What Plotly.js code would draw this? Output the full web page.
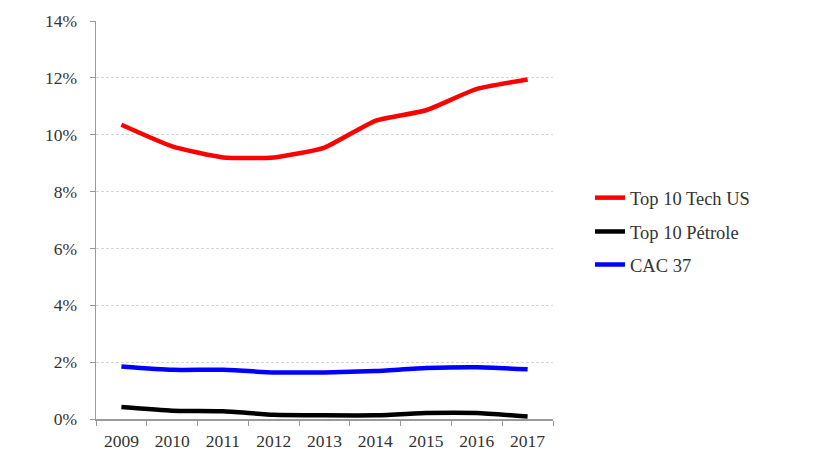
<!DOCTYPE html>
<html>
<head>
<meta charset="utf-8">
<script src="https://cdn.plot.ly/plotly-3.0.1.min.js"></script>
<style>
  html, body { margin: 0; padding: 0; background: #fff; }
  #chart { width: 813px; height: 465px; }
</style>
</head>
<body>
<div id="chart"></div>
<script>
const YEARS = ["2009", "2010", "2011", "2012", "2013", "2014", "2015", "2016", "2017"];

const TECH_US = [10.35, 9.59, 9.2, 9.2, 9.55, 10.49, 10.86, 11.61, 11.94];
const PETROLE = [0.42, 0.29, 0.27, 0.15, 0.13, 0.13, 0.21, 0.21, 0.09];
const CAC37 = [1.85, 1.73, 1.73, 1.64, 1.64, 1.69, 1.79, 1.82, 1.75];

const Y_TICKS = [0, 2, 4, 6, 8, 10, 12, 14];

const SERIF = "Liberation Serif, Times New Roman, serif";
const TEXT = "#333";

function trace(name, values, color, legendId) {
  return {
    x: YEARS,
    y: values,
    type: "scatter",
    mode: "lines",
    name: name,
    legend: legendId,
    line: { color: color, width: 4.5, shape: "spline", smoothing: 0.5 },
    hoverinfo: "skip"
  };
}

const traces = [
  trace("Top 10 Tech US", TECH_US, "#ff0000", "legend"),
  trace("Top 10 Pétrole", PETROLE, "#000000", "legend2"),
  trace("CAC 37", CAC37, "#0000ff", "legend3")
];

function legendAt(y) {
  return {
    x: 1.081,
    xanchor: "left",
    y: y,
    yanchor: "middle",
    bgcolor: "rgba(0,0,0,0)",
    font: { family: SERIF, size: 18.5, color: TEXT },
    itemwidth: 30
  };
}

const layout = {
  width: 813,
  height: 465,
  paper_bgcolor: "#fff",
  plot_bgcolor: "#fff",
  margin: { l: 96, r: 260, t: 21, b: 46 },
  font: { family: SERIF, color: TEXT },
  showlegend: true,
  legend: legendAt(0.555),
  legend2: legendAt(0.47),
  legend3: legendAt(0.387),
  xaxis: {
    type: "category",
    tickson: "boundaries",
    ticks: "outside",
    ticklen: 5,
    tickcolor: "#999",
    showline: true,
    linecolor: "#999",
    linewidth: 1.5,
    showgrid: false,
    zeroline: false,
    ticklabelstandoff: 5,
    tickfont: { family: SERIF, size: 17.5, color: TEXT },
    range: [-0.5, YEARS.length - 0.5]
  },
  yaxis: {
    range: [0, 14],
    tickvals: Y_TICKS,
    ticktext: Y_TICKS.map(v => v + "%"),
    ticks: "outside",
    ticklen: 5,
    tickcolor: "#999",
    showline: true,
    linecolor: "#999",
    linewidth: 1.5,
    showgrid: true,
    gridcolor: "#d6d6d6",
    griddash: "3px,2px",
    gridwidth: 1,
    zeroline: false,
    ticklabelstandoff: 9,
    tickfont: { family: SERIF, size: 17.5, color: TEXT }
  }
};

Plotly.newPlot("chart", traces, layout, { displayModeBar: false, staticPlot: true });
</script>
</body>
</html>
